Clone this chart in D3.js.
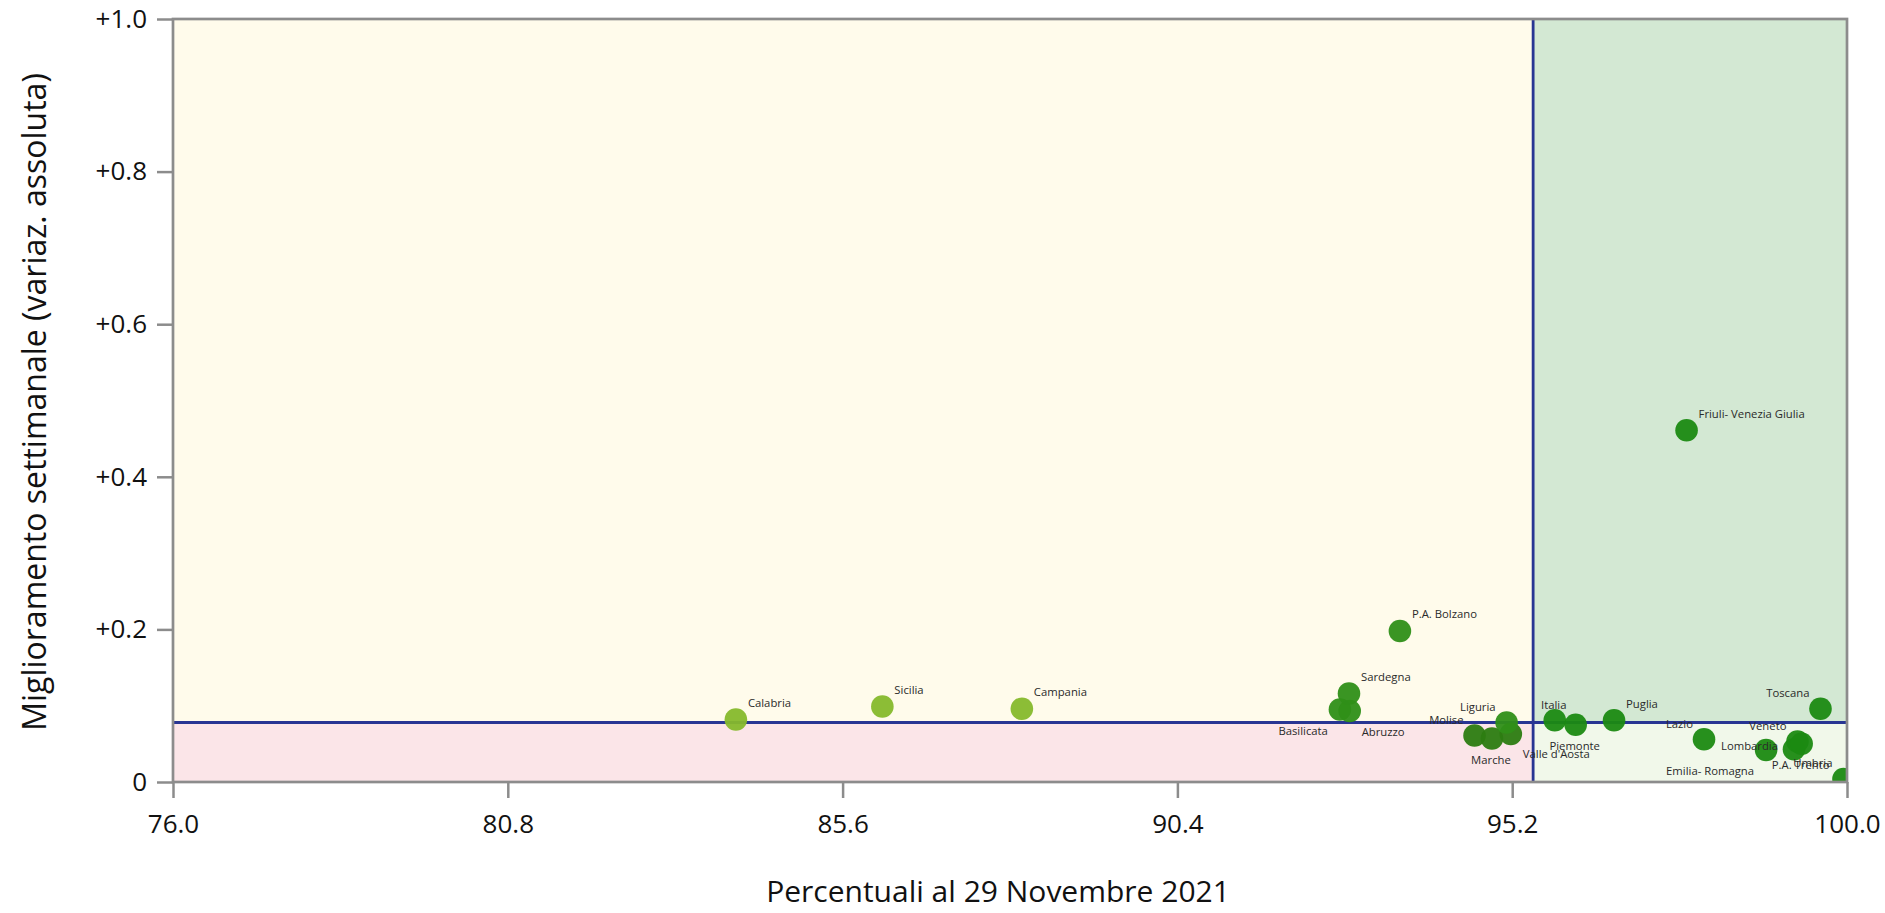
<!DOCTYPE html>
<html>
<head>
<meta charset="utf-8">
<script src="https://cdn.jsdelivr.net/npm/d3@7"></script>
<style>
    body { margin: 0; background: #fff; }
    text { font-family: "Open Sans", "Noto Sans", sans-serif; }
</style>
</head>
<body>
<div id="chart"></div>
<script>
var regions = ["Calabria", "Sicilia", "Campania", "Basilicata", "Abruzzo", "Sardegna", "P.A. Bolzano",
    "Molise", "Marche", "Valle d'Aosta", "Liguria", "Italia", "Piemonte", "Puglia", "Friuli- Venezia Giulia",
    "Lazio", "Emilia- Romagna", "Lombardia", "Veneto", "P.A. Trento", "Toscana", "Umbria"];
var percentuali = [84.07, 86.17, 88.17, 92.73, 92.87, 92.86, 93.59,
    94.66, 94.91, 95.18, 95.12, 95.81, 96.11, 96.66, 97.70,
    97.95, 98.84, 99.24, 99.29, 99.35, 99.62, 99.95];
var miglioramento = [0.082, 0.099, 0.096, 0.095, 0.093, 0.116, 0.198,
    0.061, 0.057, 0.063, 0.078, 0.081, 0.075, 0.081, 0.461,
    0.056, 0.042, 0.043, 0.053, 0.050, 0.096, 0.004];
var gruppo = [0, 0, 0, 1, 1, 1, 1,
    2, 2, 2, 1, 3, 3, 3, 3,
    3, 3, 3, 3, 3, 3, 3];

var xTicks = [76.0, 80.8, 85.6, 90.4, 95.2, 100.0];
var yTicks = [0, 0.2, 0.4, 0.6, 0.8, 1.0];
var sogliaX = 95.5;
var sogliaY = 0.078;

// where each label sits around its dot
var labelPos = {
    "Calabria": "ur", "Sicilia": "ur", "Campania": "ur", "Basilicata": "ll", "Abruzzo": "lr",
    "Sardegna": "ur", "P.A. Bolzano": "ur", "Molise": "ul", "Marche": "b", "Valle d'Aosta": "lr",
    "Liguria": "ul", "Italia": "u", "Piemonte": "b", "Puglia": "ur", "Friuli- Venezia Giulia": "ur",
    "Lazio": "ul", "Emilia- Romagna": "ll", "Lombardia": "l", "Veneto": "ul", "P.A. Trento": "b",
    "Toscana": "ul", "Umbria": "ul"
};
var offsets = {
    ur: { dx: 12, dy: -17, anchor: "start" },
    ul: { dx: -11, dy: -16, anchor: "end" },
    ll: { dx: -12, dy: 21, anchor: "end" },
    lr: { dx: 12, dy: 20, anchor: "start" },
    b: { dx: -1, dy: 21, anchor: "middle" },
    u: { dx: -1, dy: -16, anchor: "middle" },
    l: { dx: -16, dy: -4, anchor: "end" }
};
var groupColors = ["#86b92c", "#2f8f18", "#2c7c11", "#1b8a12"];

var data = regions.map(function(r, i) {
    return { name: r, x: percentuali[i], y: miglioramento[i], g: gruppo[i] };
});

var W = 1885, H = 913;
var margin = { top: 19, right: 38, bottom: 131, left: 173 };
var width = W - margin.left - margin.right;
var height = H - margin.top - margin.bottom;

var svg = d3.select("#chart")
    .append("svg")
    .attr("width", W)
    .attr("height", H);

var g = svg.append("g")
    .attr("transform", "translate(" + margin.left + "," + margin.top + ")");

var x = d3.scaleLinear().domain([76, 100]).range([0, width]);
var y = d3.scaleLinear().domain([0, 1]).range([height, 0]);

g.append("clipPath").attr("id", "plot-clip")
    .append("rect")
    .attr("width", width)
    .attr("height", height);

// quadrants
var quads = [
    { x0: 76, x1: sogliaX, y0: sogliaY, y1: 1, fill: "#fffbeb" },
    { x0: 76, x1: sogliaX, y0: 0, y1: sogliaY, fill: "#fbe5e8" },
    { x0: sogliaX, x1: 100, y0: sogliaY, y1: 1, fill: "#d3e8d3" },
    { x0: sogliaX, x1: 100, y0: 0, y1: sogliaY, fill: "#f1f8ea" }
];
g.selectAll("rect.quad")
    .data(quads)
    .enter().append("rect")
    .attr("class", "quad")
    .attr("x", function(d) { return x(d.x0); })
    .attr("y", function(d) { return y(d.y1); })
    .attr("width", function(d) { return x(d.x1) - x(d.x0); })
    .attr("height", function(d) { return y(d.y0) - y(d.y1); })
    .attr("fill", function(d) { return d.fill; });

g.append("line")
    .attr("x1", x(sogliaX)).attr("x2", x(sogliaX))
    .attr("y1", 0).attr("y2", height)
    .attr("stroke", "#283593")
    .attr("stroke-width", 2.8);

g.append("line")
    .attr("x1", 0).attr("x2", width)
    .attr("y1", y(sogliaY)).attr("y2", y(sogliaY))
    .attr("stroke", "#283593")
    .attr("stroke-width", 2.8);

g.append("g")
    .attr("clip-path", "url(#plot-clip)")
    .selectAll("circle")
    .data(data)
    .enter().append("circle")
    .attr("cx", function(d) { return x(d.x); })
    .attr("cy", function(d) { return y(d.y); })
    .attr("r", 11.3)
    .attr("fill", function(d) { return groupColors[d.g]; })
    .attr("fill-opacity", 0.95);

g.selectAll("text.lbl")
    .data(data)
    .enter().append("text")
    .attr("class", "lbl")
    .attr("x", function(d) { return x(d.x) + offsets[labelPos[d.name]].dx; })
    .attr("y", function(d) { return y(d.y) + offsets[labelPos[d.name]].dy; })
    .attr("text-anchor", function(d) { return offsets[labelPos[d.name]].anchor; })
    .attr("dominant-baseline", "central")
    .attr("font-size", "11.3px")
    .attr("fill", "#2a2a2a")
    .text(function(d) { return d.name; });

// axes
var xAxis = d3.axisBottom(x)
    .tickValues(xTicks)
    .tickSize(16)
    .tickPadding(17)
    .tickFormat(d3.format(".1f"));

var yAxis = d3.axisLeft(y)
    .tickValues(yTicks)
    .tickSize(16)
    .tickPadding(10)
    .tickFormat(function(d) { return d === 0 ? "0" : "+" + d3.format(".1f")(d); });

var gx = g.append("g")
    .attr("transform", "translate(0," + height + ")")
    .call(xAxis);
var gy = g.append("g").call(yAxis);

[gx, gy].forEach(function(a) {
    a.select(".domain").remove();
    a.selectAll(".tick line").attr("stroke", "#8c8c8c").attr("stroke-width", 2.5);
    a.selectAll(".tick text").attr("font-size", "26px").attr("fill", "#111");
});

g.append("rect")
    .attr("width", width)
    .attr("height", height)
    .attr("fill", "none")
    .attr("stroke", "#8c8c8c")
    .attr("stroke-width", 2.7);

svg.append("text")
    .attr("x", margin.left + width / 2 - 12)
    .attr("y", 890)
    .attr("text-anchor", "middle")
    .attr("dominant-baseline", "central")
    .attr("font-size", "30px")
    .attr("fill", "#111")
    .text("Percentuali al 29 Novembre 2021");

svg.append("text")
    .attr("transform", "translate(33," + 402 + ") rotate(-90)")
    .attr("text-anchor", "middle")
    .attr("dominant-baseline", "central")
    .attr("font-size", "32px")
    .attr("fill", "#111")
    .text("Miglioramento settimanale (variaz. assoluta)");
</script>
</body>
</html>
